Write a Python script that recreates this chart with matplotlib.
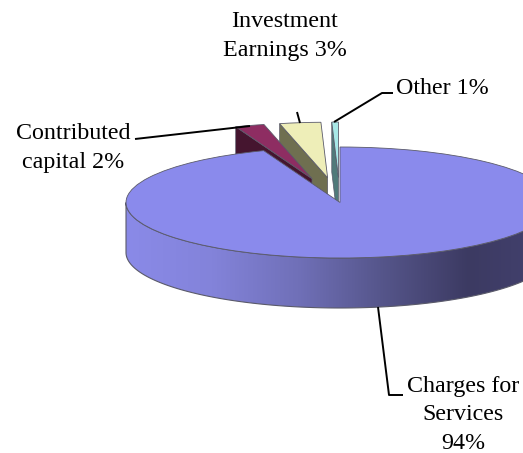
import numpy as np
import matplotlib
matplotlib.use("Agg")
import matplotlib.pyplot as plt
from matplotlib.colors import LinearSegmentedColormap
from matplotlib.patches import Polygon

plt.rcParams['font.family'] = ['Liberation Serif', 'DejaVu Serif']

categories = ["Charges for\nServices\n94%", "Contributed\ncapital 2%", "Investment\nEarnings 3%", "Other 1%"]
shares = [94.2, 2.2, 3.1, 0.5]
explode = [0, 0.45, 0.45, 0.45]
top_colors = ["#8a8aec", "#8e2d62", "#eeeeb8", "#a8e8e8"]
side_colors = ["#8a8aec", "#45152f", "#6f6f50", "#507a7a"]
wall_stops = ["#8a8ae8", "#8383da", "#7070b8", "#55558a", "#3c3a62", "#444270"]

W, H = 523, 453
CX, CY, RX, RY, DEPTH = 340, 202.5, 214, 55.5, 50
EDGE = "#5a5a6a"

fig = plt.figure(figsize=(W / 100, H / 100), dpi=100)
ax = fig.add_axes([0, 0, 1, 1])
wedges, _ = ax.pie(shares, explode=explode, colors=top_colors, startangle=90, counterclock=False,
                   radius=1, wedgeprops=dict(edgecolor=EDGE, linewidth=0.6))
ax.set_aspect("auto")
ax.axis("off")

d = DEPTH / RY
main = wedges[0]
main.set_zorder(10)

# exploded slices: painter's order, back to front
for w, side, z in zip(wedges[1:], side_colors[1:], [4, 3, 5]):
    w.set_zorder(z + 0.5)
    c = np.array(w.center)
    t = np.radians(w.theta2)
    p = c + np.array([np.cos(t), np.sin(t)]) * w.r
    ax.add_patch(Polygon([p, c, c - [0, d], p - [0, d]], closed=True, facecolor=side,
                         edgecolor=EDGE, linewidth=0.5, zorder=z))

# front wall of the main slice, with horizontal gradient
t = np.radians(np.linspace(180, 360, 200))
ax_x, ax_y = np.cos(t), np.sin(t)
wall = np.vstack([np.c_[ax_x, ax_y], np.c_[ax_x[::-1], ax_y[::-1] - d]])
ax.add_patch(Polygon(wall, closed=True, facecolor="none", edgecolor=EDGE, linewidth=0.8, zorder=9))
cmap = LinearSegmentedColormap.from_list("wall", wall_stops)
img = ax.imshow(np.linspace(0, 1, 256)[None, :], cmap=cmap, extent=(-1, 1, -1 - d, 0.0),
                aspect="auto", zorder=8.5, interpolation="bilinear")
img.set_clip_path(Polygon(wall, closed=True, transform=ax.transData))
ax.set_xlim(-CX / RX, (W - CX) / RX)
ax.set_ylim((CY - H) / RY, CY / RY)

# leader lines and labels are placed in pixel coordinates of the picture
def P(x, y):
    return (x / W, 1 - y / H)

leaders = [
    [(378, 307), (389, 395), (403, 395)],
    [(135, 139), (250, 126)],
    [(297, 112), (300, 123)],
    [(393, 93), (382, 93), (334, 122)],
]
for pts in leaders:
    xs, ys = zip(*[P(*q) for q in pts])
    ax.plot(xs, ys, color="black", lw=1.4, transform=fig.transFigure, zorder=20, solid_capstyle="butt")

label_pos = [(463, 415), (73, 148), (285, 36), (442, 89)]
label_spacing = [1.45, 1.53, 1.53, 1.53]
for text, (x, y), sp in zip(categories, label_pos, label_spacing):
    fx, fy = P(x, y)
    fig.text(fx, fy, text, ha="center", va="center", fontsize=17.3, color="black",
             linespacing=sp, zorder=30)

fig.savefig("out.png", dpi=100)
